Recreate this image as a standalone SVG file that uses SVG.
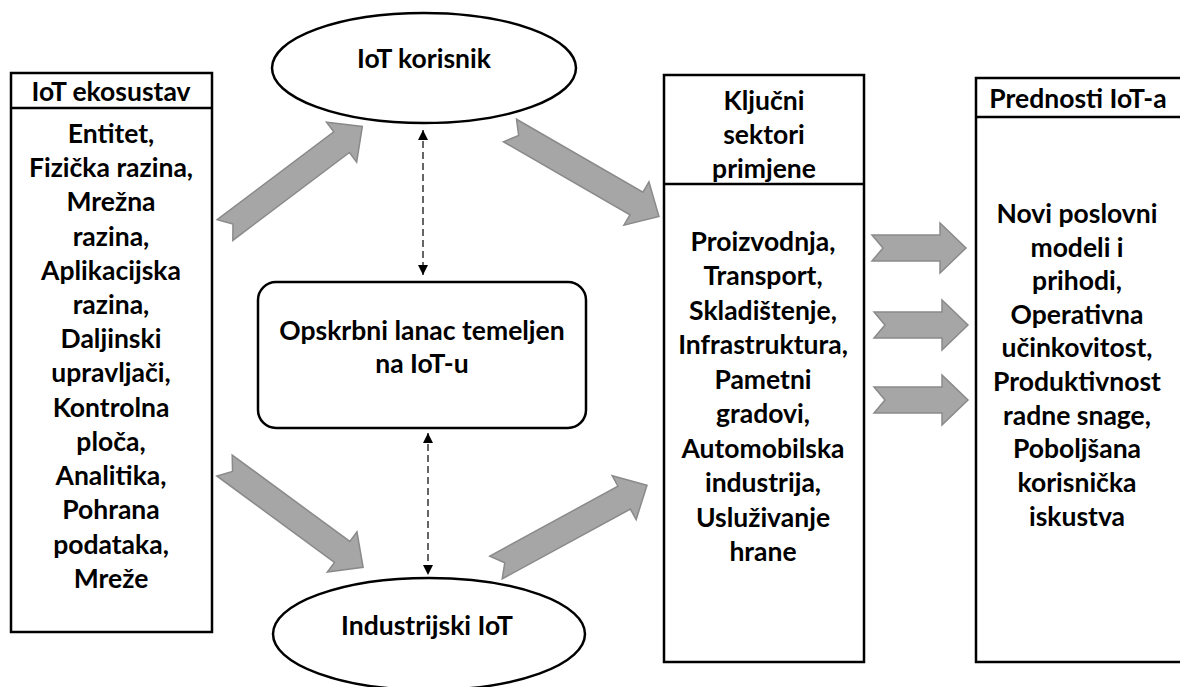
<svg xmlns="http://www.w3.org/2000/svg" width="1180" height="687" viewBox="0 0 1180 687">
<style>
.box{fill:#fff;stroke:#000;stroke-width:2.5}
.t{font-family:Lato,"Open Sans",sans-serif;font-weight:bold;font-size:26.5px;fill:#000;text-anchor:middle;dominant-baseline:central}
.ba{fill:#a6a6a6;stroke:#8a8a8a;stroke-width:1.5;stroke-linejoin:miter}
.dash{stroke:#333;stroke-width:1.5;stroke-dasharray:7,4;fill:none}
</style>
<defs>
<marker id="ah" viewBox="0 0 10 10" refX="10" refY="5" markerWidth="10" markerHeight="10" markerUnits="userSpaceOnUse" orient="auto-start-reverse">
<path d="M0,0 L10,5 L0,10 Z" fill="#000"/>
</marker>
<path id="diag" d="M0,-13 L146,-13 L146,-25 L172,0 L146,25 L146,13 L0,13 L10,0 Z"/>
<path id="horiz" d="M0,-13 L68,-13 L68,-25 L94,0 L68,25 L68,13 L0,13 L11,0 Z"/>
</defs>
<rect width="1180" height="687" fill="#fff"/>

<g id="ekosustav">
<rect class="box" x="11" y="73" width="201" height="559"/>
<line x1="11" y1="108" x2="212" y2="108" stroke="#000" stroke-width="2.5"/>
<text class="t" x="111" y="91">IoT ekosustav</text>
<text class="t" x="111" y="133">Entitet,</text>
<text class="t" x="111" y="167">Fizička razina,</text>
<text class="t" x="111" y="201">Mrežna</text>
<text class="t" x="111" y="236">razina,</text>
<text class="t" x="111" y="270">Aplikacijska</text>
<text class="t" x="111" y="304">razina,</text>
<text class="t" x="111" y="338">Daljinski</text>
<text class="t" x="111" y="372">upravljači,</text>
<text class="t" x="111" y="407">Kontrolna</text>
<text class="t" x="111" y="441">ploča,</text>
<text class="t" x="111" y="475">Analitika,</text>
<text class="t" x="111" y="509">Pohrana</text>
<text class="t" x="111" y="544">podataka,</text>
<text class="t" x="111" y="578">Mreže</text>
</g>

<g id="korisnik">
<ellipse class="box" cx="424" cy="68" rx="152" ry="55"/>
<text class="t" x="424" y="58">IoT korisnik</text>
</g>

<g id="lanac">
<rect class="box" x="258" y="282" width="328" height="146" rx="18"/>
<text class="t" x="422" y="330">Opskrbni lanac temeljen</text>
<text class="t" x="422" y="363">na IoT-u</text>
</g>

<g id="industrijski">
<ellipse class="box" cx="429" cy="634" rx="156" ry="56"/>
<text class="t" x="427" y="625">Industrijski IoT</text>
</g>

<g id="sektori">
<rect class="box" x="664" y="75" width="200" height="587"/>
<line x1="664" y1="184" x2="864" y2="184" stroke="#000" stroke-width="2.5"/>
<text class="t" x="764" y="100">Ključni</text>
<text class="t" x="764" y="134">sektori</text>
<text class="t" x="764" y="168">primjene</text>
<text class="t" x="763" y="241">Proizvodnja,</text>
<text class="t" x="763" y="275">Transport,</text>
<text class="t" x="763" y="310">Skladištenje,</text>
<text class="t" x="763" y="344">Infrastruktura,</text>
<text class="t" x="763" y="379">Pametni</text>
<text class="t" x="763" y="413">gradovi,</text>
<text class="t" x="763" y="448">Automobilska</text>
<text class="t" x="763" y="482">industrija,</text>
<text class="t" x="763" y="517">Usluživanje</text>
<text class="t" x="763" y="551">hrane</text>
</g>

<g id="prednosti">
<rect class="box" x="976" y="78" width="210" height="584"/>
<line x1="976" y1="117" x2="1186" y2="117" stroke="#000" stroke-width="2.5"/>
<text class="t" x="1078" y="98">Prednosti IoT-a</text>
<text class="t" x="1077" y="213">Novi poslovni</text>
<text class="t" x="1077" y="247">modeli i</text>
<text class="t" x="1077" y="280">prihodi,</text>
<text class="t" x="1077" y="314">Operativna</text>
<text class="t" x="1077" y="347">učinkovitost,</text>
<text class="t" x="1077" y="381">Produktivnost</text>
<text class="t" x="1077" y="415">radne snage,</text>
<text class="t" x="1077" y="448">Poboljšana</text>
<text class="t" x="1077" y="482">korisnička</text>
<text class="t" x="1077" y="516">iskustva</text>
</g>

<g id="connectors">
<use href="#diag" class="ba" transform="translate(225,230) rotate(-37)"/>
<use href="#diag" class="ba" transform="translate(224.5,465.5) rotate(36.3)"/>
<use href="#diag" class="ba" transform="translate(510,130.5) rotate(30)"/>
<use href="#diag" class="ba" transform="translate(496,567.5) rotate(-28.6)"/>
<use href="#horiz" class="ba" transform="translate(872,248)"/>
<use href="#horiz" class="ba" transform="translate(874,325)"/>
<use href="#horiz" class="ba" transform="translate(874,400)"/>
<line class="dash" x1="423" y1="130" x2="423" y2="275" marker-start="url(#ah)" marker-end="url(#ah)"/>
<line class="dash" x1="428" y1="433" x2="428" y2="575" marker-start="url(#ah)" marker-end="url(#ah)"/>
</g>
</svg>
